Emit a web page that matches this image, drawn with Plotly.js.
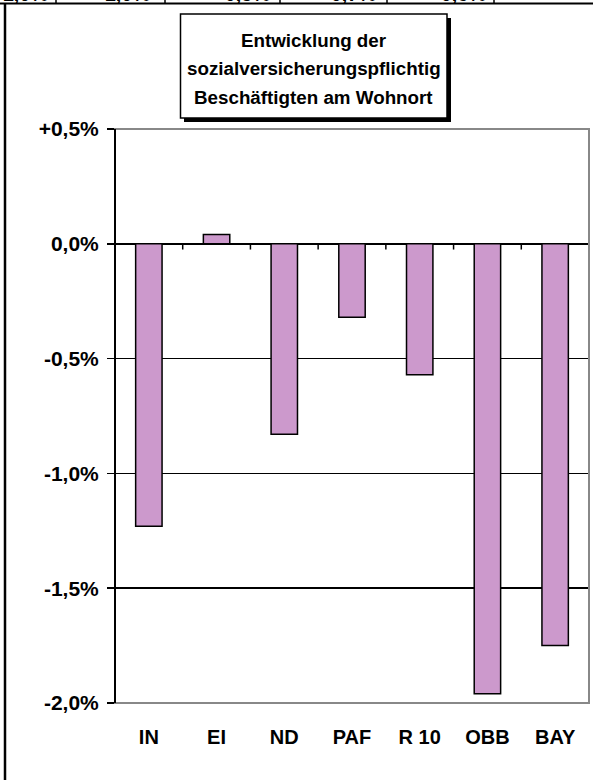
<!DOCTYPE html>
<html>
<head>
<meta charset="utf-8">
<script src="https://cdn.plot.ly/plotly-3.0.1.min.js"></script>
<style>
html,body{margin:0;padding:0;background:#fff;}
#chart{width:593px;height:780px;}
</style>
</head>
<body>
<div id="chart"></div>
<script>
// Data
const categories = ["IN", "EI", "ND", "PAF", "R 10", "OBB", "BAY"];
const changes = [-1.23, 0.04, -0.83, -0.32, -0.57, -1.96, -1.75];
const yTickVals = [-2, -1.5, -1, -0.5, 0, 0.5];
const yTickText = ["-2,0%", "-1,5%", "-1,0%", "-0,5%", "0,0%", "+0,5%"];
const titleLines = ["Entwicklung der", "sozialversicherungspflichtig", "Beschäftigten am Wohnort"];
const topStripTexts = ["-1,0%", "+1,0%", "-0,5%", "-0,7%", "-0,6%"];

const W = 593, H = 780;
const M = {l: 115, r: 4, t: 129, b: 77};
const pw = W - M.l - M.r, ph = H - M.t - M.b;
const px = x => (x - M.l) / pw;
const py = y => (H - M.b - y) / ph;

const FONT = "Arial, 'Liberation Sans', sans-serif";

const shapes = [];
// category boundary ticks on zero line
for (let i = 0; i < categories.length - 1; i++) {
  shapes.push({type: 'line', xref: 'x', yref: 'y', x0: i + 0.5, x1: i + 0.5, y0: 0, y1: -0.025,
    line: {color: '#000', width: 1.5}});
}
// plot border (gray top/right/bottom)
shapes.push({type: 'rect', xref: 'paper', yref: 'paper', x0: 0, x1: 1, y0: 0, y1: 1,
  line: {color: '#888', width: 2}, layer: 'above'});
// left axis line black on top
shapes.push({type: 'line', xref: 'paper', yref: 'paper', x0: 0, x1: 0, y0: 0, y1: 1,
  line: {color: '#000', width: 2}, layer: 'above'});
// outer frame lines
shapes.push({type: 'line', xref: 'paper', yref: 'paper', x0: px(5), x1: px(5), y0: py(3), y1: py(782),
  line: {color: '#000', width: 2.5}});
shapes.push({type: 'line', xref: 'paper', yref: 'paper', x0: px(-2), x1: px(595), y0: py(3.5), y1: py(3.5),
  line: {color: '#000', width: 2}});
// separators in top strip
[56, 165, 280, 387, 494].forEach(s => {
  shapes.push({type: 'line', xref: 'paper', yref: 'paper', x0: px(s), x1: px(s), y0: py(-5), y1: py(3),
    line: {color: '#000', width: 1.5}});
});
// title box shadow + box
shapes.push({type: 'rect', xref: 'paper', yref: 'paper', x0: px(184), x1: px(451), y0: py(122), y1: py(18),
  fillcolor: '#000', line: {width: 0}});
shapes.push({type: 'rect', xref: 'paper', yref: 'paper', x0: px(180.5), x1: px(447), y0: py(118), y1: py(14),
  fillcolor: '#fff', line: {color: '#000', width: 1.5}});

const annotations = [];
const lineY = [41, 69, 97];
titleLines.forEach((t, i) => {
  annotations.push({text: t, xref: 'paper', yref: 'paper', x: px(313.5), y: py(lineY[i]),
    xanchor: 'center', yanchor: 'middle', showarrow: false,
    font: {family: FONT, size: 18.8, color: '#000', weight: 'bold'}});
});
const stripRight = [50, 152, 272, 378, 488];
topStripTexts.forEach((t, i) => {
  annotations.push({text: t, xref: 'paper', yref: 'paper', x: px(stripRight[i]), y: py(7),
    xanchor: 'right', yanchor: 'bottom', showarrow: false,
    font: {family: FONT, size: 20, color: '#000', weight: 'bold'}});
});

const trace = {
  type: 'bar',
  x: categories,
  y: changes,
  width: 0.39,
  marker: {color: '#CC99CC', line: {color: '#000', width: 1.5}},
  hoverinfo: 'skip'
};

const layout = {
  width: W, height: H,
  margin: M,
  paper_bgcolor: '#fff',
  plot_bgcolor: '#fff',
  showlegend: false,
  font: {family: FONT, color: '#000'},
  xaxis: {
    type: 'category',
    showline: false, showgrid: false, zeroline: false,
    ticks: '', ticklabelstandoff: 20,
    tickfont: {family: FONT, size: 20, color: '#000', weight: 'bold'},
    fixedrange: true
  },
  yaxis: {
    range: [-2, 0.5],
    tickvals: yTickVals, ticktext: yTickText,
    showgrid: true, gridcolor: '#000', gridwidth: 1.5,
    zeroline: true, zerolinecolor: '#000', zerolinewidth: 2,
    showline: false,
    ticks: 'outside', ticklen: 7, tickwidth: 1.5, tickcolor: '#000',
    ticklabelstandoff: 4,
    tickfont: {family: FONT, size: 21, color: '#000', weight: 'bold'},
    fixedrange: true
  },
  bargap: 0.6,
  shapes: shapes,
  annotations: annotations
};

Plotly.newPlot('chart', [trace], layout, {staticPlot: true, displayModeBar: false});
</script>
</body>
</html>
